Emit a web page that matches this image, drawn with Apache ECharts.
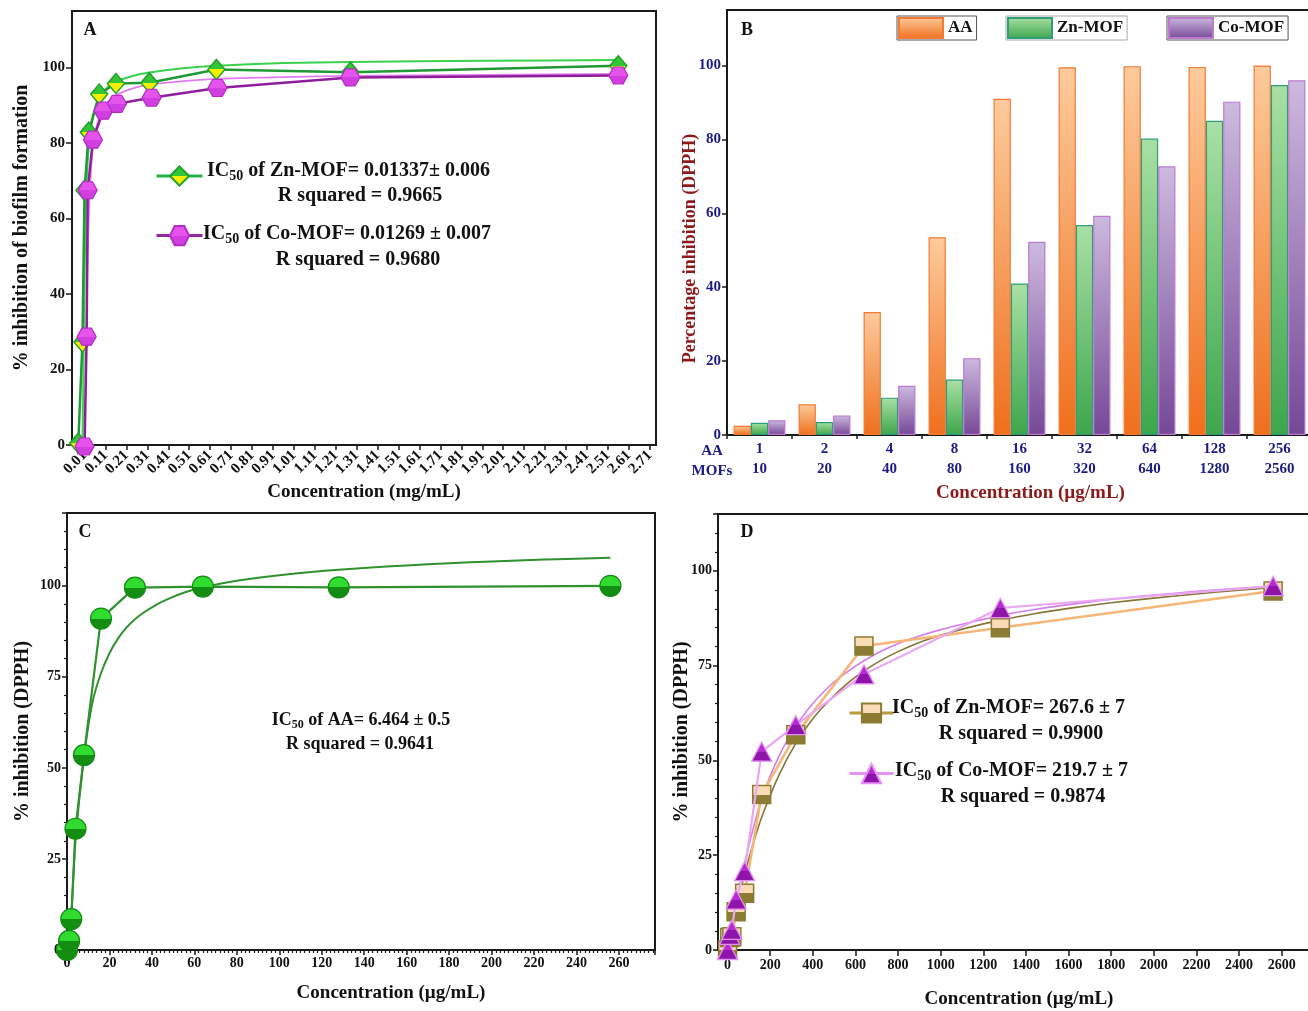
<!DOCTYPE html>
<html><head><meta charset="utf-8">
<script src="https://cdn.jsdelivr.net/npm/echarts@6/dist/echarts.min.js"></script>
<style>html,body{margin:0;padding:0;background:#fff}#c{width:1308px;height:1011px}</style>
</head><body><div id="c"></div>
<script>
// ---------- Panel A (biofilm, mg/mL) ----------
const aXTicks = [0.01,0.11,0.21,0.31,0.41,0.51,0.61,0.71,0.81,0.91,1.01,1.11,1.21,1.31,1.41,1.51,1.61,1.71,1.81,1.91,2.01,2.11,2.21,2.31,2.41,2.51,2.61,2.71];
const aZnX = [-0.02, 0.0, 0.01, 0.03, 0.08, 0.16, 0.32, 0.64, 1.28, 2.56];
const aZnY = [0.5, 27.3, 67.5, 82.9, 93.0, 95.8, 96.0, 99.5, 98.8, 100.5];
const aCoX = [0.01, 0.02, 0.025, 0.05, 0.1, 0.165, 0.33, 0.645, 1.28, 2.56];
const aCoY = [-0.4, 28.7, 67.5, 80.9, 88.6, 90.4, 92.0, 94.6, 97.4, 97.9];
const aZnFitX = [0, 0.005, 0.01, 0.015, 0.02, 0.03, 0.04, 0.06, 0.08, 0.12, 0.16, 0.24, 0.32, 0.48, 0.64, 0.96, 1.28, 1.92, 2.56];
const aZnFitY = [0, 20, 45, 60, 70, 79, 84, 89, 92, 94.8, 96.3, 97.8, 98.7, 99.8, 100.5, 101.2, 101.5, 101.8, 102];
const aCoFitX = [0.01, 0.015, 0.02, 0.025, 0.03, 0.04, 0.05, 0.07, 0.1, 0.13, 0.16, 0.24, 0.32, 0.48, 0.64, 0.96, 1.28, 1.92, 2.56];
const aCoFitY = [0, 15, 35, 50, 60, 72, 79, 85, 89, 91.3, 92.7, 94.5, 95.4, 96.4, 97, 97.5, 97.8, 98.1, 98.3];

// ---------- Panel B (DPPH bars) ----------
const bAAConc = ['1','2','4','8','16','32','64','128','256'];
const bMOFConc = ['10','20','40','80','160','320','640','1280','2560'];
const bAA = [2.5, 8.3, 33.3, 53.5, 91.0, 99.5, 99.8, 99.6, 100];
const bZn = [3.3, 3.5, 10.1, 15.0, 41.0, 56.8, 80.2, 85.0, 94.7];
const bCo = [4.0, 5.3, 13.3, 20.8, 52.3, 59.3, 72.7, 90.2, 96.0];

// ---------- Panel C (AA, µg/mL) ----------
const cX = [0, 1, 2, 4, 8, 16, 32, 64, 128, 256];
const cY = [0, 2.5, 8.5, 33.3, 53.5, 91.0, 99.5, 99.8, 99.6, 100];
const cFitX = [0, 1, 2, 4, 8, 12, 16, 20, 24, 28, 32, 36, 42, 48, 56, 64, 72, 80, 90, 100, 115, 128, 145, 160, 180, 200, 225, 256];
const cFitY = [0, 3, 9, 30, 53, 68, 76, 81.5, 85.5, 88.5, 90.8, 92.6, 94.8, 96.5, 98.3, 99.6, 100.6, 101.4, 102.2, 102.9, 103.8, 104.4, 105.1, 105.6, 106.2, 106.7, 107.2, 107.7];

// ---------- Panel D (MOFs, µg/mL) ----------
const dX = [0, 10, 20, 40, 80, 160, 320, 640, 1280, 2560];
const dZnY = [0, 3.3, 3.5, 10.1, 15.0, 41.0, 56.8, 80.2, 85.0, 94.7];
const dCoY = [0, 4.0, 5.3, 13.3, 20.8, 52.3, 59.3, 72.7, 90.2, 96.0];
const dFitX = [0, 20, 40, 60, 80, 120, 160, 240, 320, 400, 480, 560, 640, 720, 800, 900, 1000, 1120, 1280, 1440, 1600, 1800, 2000, 2200, 2400, 2560];
const dZnFitY = [0, 5.5, 10.5, 15.5, 20, 28, 35, 46, 54.5, 61, 66, 70.2, 73.6, 76.4, 78.7, 81.1, 83, 84.9, 87, 88.7, 90.1, 91.6, 92.8, 93.9, 94.9, 95.6];
const dCoFitY = [0, 6.5, 12.5, 18, 23, 32, 40, 51, 59, 65, 69.7, 73.3, 76.3, 78.8, 80.8, 82.8, 84.5, 86.2, 88.2, 89.8, 91.1, 92.5, 93.6, 94.6, 95.4, 96];
const dXTicks = [0,200,400,600,800,1000,1200,1400,1600,1800,2000,2200,2400,2600];

// ---------- helpers ----------
const F = '"Liberation Serif","Times New Roman",serif';
const zip = (xs, ys) => xs.map((x, i) => [x, ys[i]]);
const half = (t, b) => ({type:'linear',x:0,y:0,x2:0,y2:1,colorStops:[{offset:0,color:t},{offset:0.5,color:t},{offset:0.5,color:b},{offset:1,color:b}]});
const vgrad = (t, b) => ({type:'linear',x:0,y:0,x2:0,y2:1,colorStops:[{offset:0,color:t},{offset:1,color:b}]});
const HEX = 'path://M0,43.3 L25,0 L75,0 L100,43.3 L75,86.6 L25,86.6 Z';
const lbl = (size, extra) => Object.assign({fontFamily:F, fontWeight:'bold', fontSize:size, color:'#111'}, extra || {});
const rich = (size) => ({
  a:{fontFamily:F, fontWeight:'bold', fontSize:size, color:'#111', lineHeight:size+4},
  s:{fontFamily:F, fontWeight:'bold', fontSize:Math.round(size*0.68), color:'#111', verticalAlign:'bottom', lineHeight:Math.round(size*0.68)}
});
const axisLine = {show:true, onZero:false, lineStyle:{color:'#1a1a1a', width:2}};
const tick = (len, extra) => Object.assign({show:true, length:len, lineStyle:{color:'#1a1a1a', width:1.5}}, extra || {});
const gridBase = {show:true, borderColor:'#1a1a1a', borderWidth:2, backgroundColor:'transparent', outerBoundsMode:'none', containLabel:false};

const txt = (x, y, text, size, align) => ({type:'text', x:x, y:y, z:100,
  style:{text:text, fontFamily:F, fontWeight:'bold', fontSize:size, fill:'#111', align:align||'center', verticalAlign:'middle'}});
const rtxt = (x, y, text, size, align) => ({type:'text', x:x, y:y, z:100,
  style:{text:text, rich:rich(size), fontFamily:F, fontWeight:'bold', fontSize:size, fill:'#111', align:align||'left', verticalAlign:'middle'}});

const chart = echarts.init(document.getElementById('c'), null, {renderer:'canvas'});
const navy = '#1c1c86', dred = '#8b1a1a';

const option = {
  backgroundColor:'#fff',
  animation:false,
  grid:[
    Object.assign({left:72, top:11, width:584, height:434}, gridBase),
    Object.assign({left:727, top:10, width:585, height:425}, gridBase),
    Object.assign({left:67, top:513, width:588, height:437}, gridBase),
    Object.assign({left:718, top:514, width:602, height:436}, gridBase)
  ],
  xAxis:[
    {gridIndex:0, type:'value', min:-0.05, max:2.74, splitLine:{show:false}, axisLine:axisLine,
     axisTick:tick(5,{customValues:aXTicks}),
     axisLabel:lbl(15,{customValues:aXTicks, rotate:45, margin:8, formatter:v=>v.toFixed(2)}),
     name:'Concentration (mg/mL)', nameLocation:'middle', nameGap:38, nameMoveOverlap:false, nameTextStyle:lbl(19)},
    {gridIndex:1, type:'category', data:bAAConc, axisLine:axisLine, axisTick:tick(4),
     axisLabel:lbl(15,{color:navy, lineHeight:20, margin:4, formatter:(v,i)=>v+'\n'+bMOFConc[i]}),
     name:'Concentration (µg/mL)', nameLocation:'middle', nameGap:49, nameMoveOverlap:false, nameTextStyle:lbl(19,{color:dred, padding:[0,0,0,22]})},
    {gridIndex:2, type:'value', min:0, max:277, interval:20, splitLine:{show:false}, axisLine:axisLine,
     axisTick:tick(5), minorTick:{show:true, splitNumber:10, length:3, lineStyle:{color:'#1a1a1a', width:1.2}},
     axisLabel:lbl(14,{margin:6, showMaxLabel:false, formatter:v=>String(v)}),
     name:'Concentration (µg/mL)', nameLocation:'middle', nameGap:34, nameMoveOverlap:false, nameTextStyle:lbl(19,{padding:[0,0,0,60]})},
    {gridIndex:3, type:'value', min:-45, max:2780, splitLine:{show:false}, axisLine:axisLine,
     axisTick:tick(6,{customValues:dXTicks}),
     axisLabel:lbl(14,{customValues:dXTicks, margin:8, formatter:v=>String(v)}),
     name:'Concentration (µg/mL)', nameLocation:'middle', nameGap:40, nameMoveOverlap:false, nameTextStyle:lbl(19)}
  ],
  yAxis:[
    {gridIndex:0, type:'value', min:0, max:115, interval:20, splitLine:{show:false}, axisLine:axisLine, axisTick:tick(6),
     axisLabel:lbl(15,{margin:7, showMaxLabel:false}),
     name:'% inhibition of biofilm formation', nameLocation:'middle', nameGap:40, nameMoveOverlap:false, nameTextStyle:lbl(20)},
    {gridIndex:1, type:'value', min:0, max:115, interval:20, splitLine:{show:false}, axisLine:axisLine, axisTick:tick(5),
     axisLabel:lbl(15,{color:navy, margin:6, showMaxLabel:false}),
     name:'Percentage inhibition (DPPH)', nameLocation:'middle', nameGap:28, nameMoveOverlap:false, nameTextStyle:lbl(18,{color:dred, padding:[0,52,0,0]})},
    {gridIndex:2, type:'value', min:0, max:120, interval:25, splitLine:{show:false}, axisLine:axisLine, axisTick:tick(5),
     minorTick:{show:true, splitNumber:5, length:3, lineStyle:{color:'#1a1a1a', width:1.2}},
     axisLabel:lbl(14,{margin:6, showMaxLabel:false}),
     name:'% inhibition (DPPH)', nameLocation:'middle', nameGap:34, nameMoveOverlap:false, nameTextStyle:lbl(20)},
    {gridIndex:3, type:'value', min:0, max:115, interval:25, splitLine:{show:false}, axisLine:axisLine, axisTick:tick(5),
     minorTick:{show:true, splitNumber:5, length:3, lineStyle:{color:'#1a1a1a', width:1.2}},
     axisLabel:lbl(14,{margin:6, showMaxLabel:false}),
     name:'% inhibition (DPPH)', nameLocation:'middle', nameGap:26, nameMoveOverlap:false, nameTextStyle:lbl(20)}
  ],
  legend:[
    {selectedMode:false, orient:'vertical', left:150, top:159, itemWidth:46, itemHeight:24, itemGap:37,
     data:[{name:'A Zn-MOF', lineStyle:{color:'#25b34a', width:3}}, {name:'A Co-MOF', lineStyle:{color:'#93289f', width:3}}],
     formatter:()=>'', textStyle:lbl(1)},
    {selectedMode:false, left:897, top:16, data:[{name:'AA', icon:'rect'}], itemWidth:44, itemHeight:20, padding:[1,4,1,1],
     borderColor:'#555', borderWidth:1, textStyle:lbl(17)},
    {selectedMode:false, left:1006, top:16, data:[{name:'Zn-MOF', icon:'rect'}], itemWidth:44, itemHeight:20, padding:[1,4,1,1],
     borderColor:'#aaa', borderWidth:1, textStyle:lbl(17)},
    {selectedMode:false, left:1167, top:16, data:[{name:'Co-MOF', icon:'rect'}], itemWidth:44, itemHeight:20, padding:[1,4,1,1],
     borderColor:'#555', borderWidth:1, textStyle:lbl(17)},
    {selectedMode:false, orient:'vertical', left:843, top:696, itemWidth:44, itemHeight:24, itemGap:38,
     data:[{name:'D Zn-MOF', lineStyle:{color:'#bb9b3e', width:3}}, {name:'D Co-MOF', lineStyle:{color:'#e394f2', width:3}}],
     formatter:()=>'', textStyle:lbl(1)}
  ],
  series:[
    // Panel A
    {name:'A Zn fit', type:'line', xAxisIndex:0, yAxisIndex:0, data:zip(aZnFitX, aZnFitY), showSymbol:false, smooth:0.2,
     lineStyle:{color:'#39d24c', width:2}, z:2, silent:true},
    {name:'A Co fit', type:'line', xAxisIndex:0, yAxisIndex:0, data:zip(aCoFitX, aCoFitY), showSymbol:false, smooth:0.2,
     lineStyle:{color:'#e27cf0', width:1.8}, z:2, silent:true},
    {name:'A Zn-MOF', type:'line', xAxisIndex:0, yAxisIndex:0, data:zip(aZnX, aZnY), clip:false,
     symbol:'diamond', symbolSize:[17,20], lineStyle:{color:'#1f9a36', width:2.5},
     itemStyle:{color:half('#34c534','#f2f000'), borderColor:'#1fa02e', borderWidth:1.5}, z:4},
    {name:'A Co-MOF', type:'line', xAxisIndex:0, yAxisIndex:0, data:zip(aCoX, aCoY), clip:false,
     symbol:HEX, symbolSize:[19,17], lineStyle:{color:'#8e1e9c', width:2.5},
     itemStyle:{color:half('#e552ec','#d23fe0'), borderColor:'#b42ec4', borderWidth:1.2}, z:5},
    // Panel B
    {name:'AA', type:'bar', xAxisIndex:1, yAxisIndex:1, data:bAA, barWidth:17.3, barGap:'0%',
     itemStyle:{color:vgrad('#fdcb9c','#ef6f1c'), borderColor:'#f27a36', borderWidth:1.2}},
    {name:'Zn-MOF', type:'bar', xAxisIndex:1, yAxisIndex:1, data:bZn, barWidth:17.3, barGap:'0%',
     itemStyle:{color:vgrad('#a9e0a4','#3da64c'), borderColor:'#2f9d78', borderWidth:1.2}},
    {name:'Co-MOF', type:'bar', xAxisIndex:1, yAxisIndex:1, data:bCo, barWidth:17.3, barGap:'0%',
     itemStyle:{color:vgrad('#cdbadf','#754897'), borderColor:'#bd78cf', borderWidth:1.2}},
    // Panel C
    {name:'C fit', type:'line', xAxisIndex:2, yAxisIndex:2, data:zip(cFitX, cFitY), showSymbol:false, smooth:0.2,
     lineStyle:{color:'#2f922f', width:2}, z:2, silent:true},
    {name:'C AA', type:'line', xAxisIndex:2, yAxisIndex:2, data:zip(cX, cY), clip:false,
     symbol:'circle', symbolSize:21, lineStyle:{color:'#2f922f', width:2.2},
     itemStyle:{color:half('#2fdc2f','#138e13'), borderColor:'#148a14', borderWidth:1.2}, z:4},
    // Panel D
    {name:'D Zn fit', type:'line', xAxisIndex:3, yAxisIndex:3, data:zip(dFitX, dZnFitY), showSymbol:false, smooth:0.2,
     lineStyle:{color:'#857536', width:1.6}, z:3, silent:true},
    {name:'D Co fit', type:'line', xAxisIndex:3, yAxisIndex:3, data:zip(dFitX, dCoFitY), showSymbol:false, smooth:0.2,
     lineStyle:{color:'#d47ee9', width:1.6}, z:3, silent:true},
    {name:'D Zn-MOF', type:'line', xAxisIndex:3, yAxisIndex:3, data:zip(dX, dZnY), clip:false,
     symbol:'rect', symbolSize:18, lineStyle:{color:'#f7b677', width:2.6},
     itemStyle:{color:half('#f9dcb6','#8b7b33'), borderColor:'#8b7b33', borderWidth:1.5}, z:4},
    {name:'D Co-MOF', type:'line', xAxisIndex:3, yAxisIndex:3, data:zip(dX, dCoY), clip:false,
     symbol:'triangle', symbolSize:[20,19], lineStyle:{color:'#eba6f3', width:2.2},
     itemStyle:{color:half('#b42bcf','#8e14aa'), borderColor:'#e58ff2', borderWidth:1.3}, z:5}
  ],
  graphic:[
    txt(90, 30, 'A', 18), txt(747, 30, 'B', 18), txt(85, 532, 'C', 18), txt(747, 532, 'D', 18),
    rtxt(207, 171, '{a|IC}{s|50}{a| of Zn-MOF= 0.01337± 0.006}', 20),
    txt(360, 196, 'R squared = 0.9665', 20),
    rtxt(203, 234, '{a|IC}{s|50}{a| of Co-MOF= 0.01269 ± 0.007}', 20),
    txt(358, 260, 'R squared = 0.9680', 20),
    {type:'text', x:712, y:451, z:100, style:{text:'AA', fontFamily:F, fontWeight:'bold', fontSize:15, fill:navy, align:'center', verticalAlign:'middle'}},
    {type:'text', x:712, y:471, z:100, style:{text:'MOFs', fontFamily:F, fontWeight:'bold', fontSize:15, fill:navy, align:'center', verticalAlign:'middle'}},
    rtxt(361, 720, '{a|IC}{s|50}{a| of AA= 6.464 ± 0.5}', 18, 'center'),
    txt(360, 744, 'R squared = 0.9641', 18),
    rtxt(892, 708, '{a|IC}{s|50}{a| of Zn-MOF= 267.6 ± 7}', 20),
    txt(1021, 734, 'R squared = 0.9900', 20),
    rtxt(895, 771, '{a|IC}{s|50}{a| of Co-MOF= 219.7 ± 7}', 20),
    txt(1023, 797, 'R squared = 0.9874', 20)
  ]
};
chart.setOption(option);
</script></body></html>
